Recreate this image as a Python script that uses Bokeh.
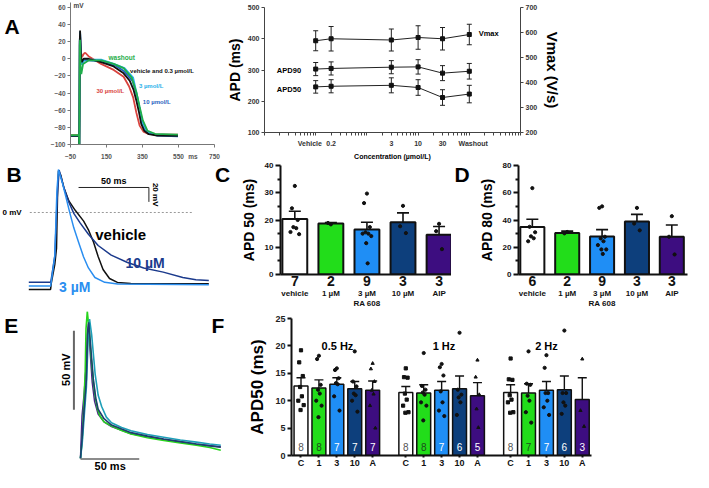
import math
from bokeh.plotting import figure
from bokeh.layouts import row, column
from bokeh.models import (Range1d, LinearAxis, FixedTicker, Whisker, TeeHead,
                          ColumnDataSource, Label, LabelSet)
from bokeh.core.properties import value, field
from bokeh.embed import file_html
from bokeh.resources import INLINE

FONT = "Liberation Sans"

# ============================ DATA ============================
# ---- A (left): action potentials, time (ms) / potential (mV)
ap_vehicle_t = [-50, -3, -1, 0, 1.5, 3.3, 8, 12, 23, 50, 120, 190, 245, 280, 300, 315, 330, 343, 360, 385, 430, 547]
ap_vehicle_v = [-90, -90, -100, -60, 20, 33, 5, -4, 0, 0, -4, -9, -17, -26, -36, -48, -62, -76, -84, -88, -89.5, -90]
ap_30_t = [-50, -3, -1, 0, 1.5, 3, 8, 14, 25, 32, 50, 120, 190, 245, 275, 298, 316, 334, 355, 380, 430, 547]
ap_30_v = [-89, -89, -100, -60, 18, 28, 8, 2, 6, 7, 3, -6, -13, -21, -32, -45, -63, -78, -85, -87.5, -88.5, -88.5]
ap_wash_t = [-50, -3, -1, 0, 1.5, 3, 6, 10, 20, 50, 120, 190, 245, 290, 316, 334, 352, 378, 420, 547]
ap_wash_v = [-89, -89, -100, -60, 15, 22, -10, -18, -6, -2, -2, -6, -11, -22, -39, -56, -72, -84, -87.5, -88.5]
ap_3_t = [-50, -3, -1, 0, 1.5, 3.3, 8, 12, 25, 50, 120, 190, 250, 298, 318, 336, 348, 370, 420, 547]
ap_3_v = [-90, -90, -100, -60, 20, 32, 0, -7, -1, -1, -1, -6, -11, -22, -41, -59, -75, -85, -88.5, -89.5]
ap_10_t = [-50, -3, -1, 0, 1.5, 3.3, 8, 12, 25, 50, 120, 200, 250, 295, 320, 338, 355, 380, 430, 547]
ap_10_v = [-90, -90, -100, -60, 20, 31, 0, -6, -2, -2, -3, -8, -15, -26, -44, -63, -78, -86, -89.5, -90.5]
a1_xticks = [-50, 150, 350, 550, 750]
a1_yticks = [-100, -80, -60, -40, -20, 0, 20, 40, 60]

# ---- A (right): APD / Vmax vs concentration
conc = [0.1, 0.2, 3, 10, 30, 100]
conc_labels = ["Vehicle", "0.2", "3", "10", "30", "Washout"]
apd90 = [303, 305, 309, 310, 290, 296]
apd90_sem = [21, 21, 21, 23, 24, 25]
apd50 = [246, 248, 251, 244, 212, 223]
apd50_sem = [20, 21, 24, 25, 25, 28]
vmax = [567, 575, 570, 580, 575, 592]
vmax_sem = [40, 49, 44, 47, 45, 41]

# ---- B: action potentials (ms / mV)
b_vehicle_t = [-16, -0.5, 0, 2.5, 3.7, 4.6, 5.1, 6.7, 9, 12.5, 17, 23, 26.4, 30, 33.3, 36.8, 41.4, 47, 56.5, 80, 112]
b_vehicle_v = [-106.7, -106.7, -98, -72, -50, 40, 58, 52, 34, 16, 3, -12, -24, -41, -61, -79, -91.6, -97, -98.5, -98.7, -98.7]
b_3_t = [-16, -0.5, 0, 2.5, 4, 5.1, 7.9, 10.2, 13, 16, 19.4, 22.9, 26.4, 31, 38, 47.2, 112]
b_3_v = [-102, -102, -96, -60, 30, 59.6, 40.9, 23.1, 0.9, -21.3, -41.3, -61.3, -76.9, -90.2, -96.9, -99.1, -100.4]
b_10_t = [-16, -0.5, 0, 2.5, 4.2, 5.6, 9, 12.5, 16, 20.6, 26.4, 33.3, 42.6, 54.2, 65.7, 79.6, 93.5, 102.8, 112]
b_10_v = [-96.9, -96.9, -92, -60, 20, 58.7, 34.2, 14.2, -1.3, -14.7, -30.2, -45.8, -59.1, -69.3, -76.9, -82.7, -90.2, -93.3, -94.2]

# ---- C / D: bar charts
cd_groups = ["vehicle", "1 \u00b5M", "3 \u00b5M\nRA 608", "10 \u00b5M", "AIP"]
cd_colors = ["white", "#22dd1a", "#1f8ef5", "#0d3f7c", "#3d0d80"]
c_n = [7, 2, 9, 3, 3]
c_mean = [20.4, 18.7, 16.5, 19.2, 14.6]
c_sem = [2.8, 0.4, 2.7, 3.4, 3.0]
c_dots = [[32.5, 24.3, 20.0, 17.4, 17.0, 15.6, 14.8],
          [18.4, 18.9],
          [29.7, 26.2, 17.4, 15.5, 15.0, 15.0, 14.1, 11.5, 4.1],
          [25.2, 17.7, 15.2],
          [18.6, 15.9, 9.3]]
d_n = [6, 2, 9, 3, 3]
d_mean = [34.8, 30.5, 27.9, 38.9, 27.7]
d_sem = [5.8, 1.3, 5.0, 5.2, 8.6]
d_dots = [[63.4, 35.0, 31.0, 28.0, 26.6, 24.4],
          [31.2, 30.2],
          [50.0, 48.9, 27.7, 26.5, 24.4, 21.6, 18.4, 18.4, 15.1],
          [48.9, 37.4, 32.4],
          [42.8, 27.7, 14.7]]

# ---- E: action potentials (ms / mV above baseline)
e_green_t = [0, 1.5, 2.8, 4.0, 4.7, 5.8, 7.5, 9.2, 11, 12.5, 14.5, 16.7, 20, 26.4, 35, 43, 57, 70.8, 85, 98.6, 110, 119.4]
e_green_v = [0, 12, 33, 55, 82, 93, 80, 63, 48, 39, 31, 26.6, 23, 20.4, 17.5, 15.3, 13, 11.2, 9.6, 8.2, 6.8, 5.1]
e_teal_t = [0, 1.5, 3, 5, 6.5, 7.7, 9.5, 12.5, 15, 18, 22, 26.4, 35, 43, 57, 70.8, 85, 98.6, 110, 119.4]
e_teal_v = [0, 10, 25, 45, 75, 88, 78, 53, 40, 32.7, 26, 22.5, 19.5, 17.4, 15, 13.3, 11.5, 10.2, 9, 8.2]
e_navy_t = [0, 1.5, 3, 5, 6, 7, 8.5, 10.9, 13, 15, 20, 26.4, 35, 43, 57, 70.8, 85, 98.6, 110, 119.4]
e_navy_v = [0, 14, 30, 50, 78, 86, 72, 50, 38, 31, 25, 21, 18.5, 16.2, 14, 12.2, 10.5, 9, 7.8, 7]
e_purple_t = [0, 1.3, 3, 5, 6, 6.8, 8, 10, 12, 15, 20, 26.4, 43, 70.8, 98.6, 119.4]
e_purple_v = [0, 26.6, 40, 60, 80, 85, 70, 48, 36, 28, 23, 20, 15.5, 11.8, 8.8, 7.2]

# ---- F: APD50 at three pacing frequencies
f_freqs = ["0.5 Hz", "1 Hz", "2 Hz"]
f_groups = ["C", "1", "3", "10", "A"]
f_mean_05 = [12.7, 12.3, 13.0, 12.2, 11.9]
f_sem_05 = [1.5, 1.5, 1.2, 1.3, 1.7]
f_n_05 = [8, 8, 7, 7, 7]
f_dots_05 = [[19.2, 17.0, 14.5, 12.5, 10.8, 10.0, 9.2, 8.3],
             [18.2, 17.6, 12.9, 12.0, 11.3, 10.0, 9.1, 7.0],
             [15.9, 15.6, 14.1, 13.2, 13.0, 10.8, 8.2],
             [19.0, 13.5, 12.6, 11.3, 11.0, 10.0, 8.0],
             [16.8, 15.8, 13.5, 11.9, 11.2, 9.1, 5.0]]
f_mean_1 = [11.5, 11.4, 11.9, 12.2, 10.9]
f_sem_1 = [1.1, 1.5, 1.6, 2.3, 2.4]
f_n_1 = [8, 8, 7, 6, 5]
f_dots_1 = [[15.9, 14.3, 14.2, 11.3, 10.2, 9.1, 7.9, 7.8],
            [18.7, 12.7, 12.0, 11.5, 11.1, 9.7, 9.1, 6.4],
            [16.7, 16.1, 14.6, 11.7, 9.7, 8.2, 7.2],
            [22.4, 12.0, 11.1, 10.6, 9.7, 7.4],
            [17.4, 14.3, 11.1, 8.5, 5.1]]
f_mean_2 = [11.5, 11.4, 11.9, 12.0, 10.2]
f_sem_2 = [1.4, 1.7, 1.6, 2.5, 4.0]
f_n_2 = [8, 7, 7, 6, 3]
f_dots_2 = [[17.7, 13.9, 13.8, 11.0, 10.2, 9.7, 7.9, 7.8],
            [19.0, 13.1, 12.9, 10.9, 10.0, 7.9, 6.0],
            [18.3, 16.0, 11.4, 11.4, 10.0, 8.8, 7.4],
            [22.8, 11.4, 11.4, 9.7, 9.1, 7.6],
            [17.6, 8.2, 5.3]]

# ============================ HELPERS ============================
SX = 693 / 709
SY = 472 / 488
NB = "\u00a0"


def X(v):
    return int(round(v * SX))


def Y(v):
    return int(round(v * SY))


def panel(box, frame, x_range, y_range, **kw):
    l, t, r, b = box
    fl, ft, fr, fb = frame
    p = figure(width=X(r) - X(l), height=Y(b) - Y(t), x_range=x_range, y_range=y_range,
               output_backend="svg", toolbar_location=None,
               min_border_left=X(fl) - X(l), min_border_right=X(r) - X(fr),
               min_border_top=Y(ft) - Y(t), min_border_bottom=Y(b) - Y(fb), **kw)
    try:
        p.frame_align = False
    except Exception:
        pass
    p.outline_line_color = None
    p.grid.visible = False
    p.background_fill_color = "white"
    p.border_fill_color = "white"
    return p


def to_data(frame, xr, yr, px, py, xlog=False):
    fl, ft, fr, fb = frame
    if xlog:
        l0, l1 = math.log10(xr[0]), math.log10(xr[1])
        x = 10 ** (l0 + (px - fl) / (fr - fl) * (l1 - l0))
    else:
        x = xr[0] + (px - fl) / (fr - fl) * (xr[1] - xr[0])
    y = yr[0] + (fb - py) / (fb - ft) * (yr[1] - yr[0])
    return x, y


def txt(p, frame, xr, yr, px, py, text, size=8, color="black", align="left",
        angle=0.0, bold=True, xlog=False):
    x, y = to_data(frame, xr, yr, px, py, xlog)
    p.add_layout(Label(x=x, y=y, text=text, text_font=FONT, text_font_size=f"{size}px",
                       text_font_style="bold" if bold else "normal", text_color=color,
                       text_align=align, text_baseline="middle", angle=angle))


def dtxt(p, x, y, text, size=8, color="black", align="left", angle=0.0):
    p.add_layout(Label(x=x, y=y, text=text, text_font=FONT, text_font_size=f"{size}px",
                       text_font_style="bold", text_color=color,
                       text_align=align, text_baseline="middle", angle=angle))


def style_axis(ax, size=8, color="black", lw=1, label_color=None, tick_out=3, minor_out=2):
    ax.axis_line_color = color
    ax.axis_line_width = lw
    ax.major_tick_line_color = color
    ax.major_tick_line_width = lw
    ax.minor_tick_line_color = color
    ax.minor_tick_line_width = lw
    ax.major_tick_in = 0
    ax.minor_tick_in = 0
    ax.major_tick_out = tick_out
    ax.minor_tick_out = minor_out
    ax.major_label_text_font = FONT
    ax.major_label_text_font_size = f"{size}px"
    ax.major_label_text_font_style = "bold"
    ax.major_label_text_color = label_color or color
    ax.major_label_standoff = 2
    ax.axis_label_text_font = FONT
    ax.axis_label_text_font_style = "bold"
    ax.axis_label_text_color = "black"


def letter_fig(box, letter, px, py):
    p = panel(box, box, Range1d(0, 1), Range1d(0, 1), x_axis_location=None, y_axis_location=None)
    txt(p, box, (0, 1), (0, 1), px, py, letter, 21, align="center")
    return p


JIT = [0.0, -0.08, 0.08, -0.04, 0.04, -0.12, 0.12, -0.02, 0.02]

# ============================ A (left) ============================
AL_BOX = (0, 0, 26, 167)
al = letter_fig(AL_BOX, "A", 12, 27)

A1_BOX = (26, 0, 228, 167)
A1_FR = (72, 2, 219, 150)
a1_xr = (-50, 750)
a1_yr = (-100, 60 + 5 * 160 / 143)
a1 = panel(A1_BOX, A1_FR, Range1d(*a1_xr), Range1d(*a1_yr))
MS_TICK = 630
a1.xaxis.ticker = FixedTicker(ticks=a1_xticks + [MS_TICK], minor_ticks=a1_xticks)
a1.xaxis.major_label_overrides = {MS_TICK: "ms"}
a1.yaxis.ticker = FixedTicker(ticks=a1_yticks)
for ax in a1.axis:
    style_axis(ax, size=6.5, color="#777777", label_color="#555555", tick_out=3)
a1.xaxis.major_tick_out = 0
a1.xaxis.minor_tick_out = 3
a1.xaxis.major_label_standoff = 5
for t, v, c in [(ap_30_t, ap_30_v, "#d9443f"), (ap_10_t, ap_10_v, "#1f63c0"),
                (ap_3_t, ap_3_v, "#29b0ea"), (ap_vehicle_t, ap_vehicle_v, "#111111"),
                (ap_wash_t, ap_wash_v, "#1fae4a")]:
    a1.line(t, v, line_color=c, line_width=1.8)
dtxt(a1, 161, 2, "washout", 6.5, "#1fae4a")
dtxt(a1, 281, -14.4, "vehicle and 0.3 \u00b5mol/L", 6, "#111111")
dtxt(a1, 330, -32, "3 \u00b5mol/L", 6, "#29b0ea")
dtxt(a1, 94, -38, "30 \u00b5mol/L", 6, "#d9443f")
dtxt(a1, 352, -51, "10 \u00b5mol/L", 6, "#1f63c0")
txt(a1, A1_FR, a1_xr, a1_yr, 75, 5, "mV", 6.5, "#444444")

# ============================ A (right) ============================
A2_BOX = (228, 0, 709, 167)
A2_FR = (263, 7, 532, 140)
a2_xr = (0.01, 1000)
a2_yr = (100, 500)
a2 = panel(A2_BOX, A2_FR, Range1d(*a2_xr), Range1d(*a2_yr), x_axis_type="log")
a2.extra_y_ranges = {"vmax": Range1d(200, 700)}
a2.add_layout(LinearAxis(y_range_name="vmax"), "right")
xa = a2.below[0]
xa.ticker = FixedTicker(ticks=conc,
                        minor_ticks=[k * 10.0 ** e for e in range(-2, 3) for k in range(1, 10)] + [1000])
shown = [lab + NB * 6 if i == 0 else (NB * 4 + lab if i == len(conc_labels) - 1 else lab)
         for i, lab in enumerate(conc_labels)]
xa.major_label_overrides = {c: l for c, l in zip(conc, shown)}
la = a2.left[0]
la.ticker = FixedTicker(ticks=[100, 200, 300, 400, 500])
ra = a2.right[0]
ra.ticker = FixedTicker(ticks=[200, 300, 400, 500, 600, 700])
for ax in (xa, la, ra):
    style_axis(ax, size=7, color="#444444", label_color="#333333", tick_out=3)
xa.major_tick_out = 0
xa.minor_tick_out = 3
xa.major_label_standoff = 4
xa.axis_label = "Concentration (\u00b5mol/L)"
xa.axis_label_text_font_size = "7px"
xa.axis_label_standoff = 3
la.axis_label = "APD (ms)"
la.axis_label_text_font_size = "14px"
la.axis_label_standoff = 2
ra.axis_label = "Vmax (V/s)"
ra.axis_label_text_font_size = "15px"
ra.axis_label_standoff = 4

for vals, sems, rng in [(apd90, apd90_sem, "default"), (apd50, apd50_sem, "default"),
                        (vmax, vmax_sem, "vmax")]:
    src = ColumnDataSource(dict(x=conc, y=vals,
                                lo=[v - s for v, s in zip(vals, sems)],
                                hi=[v + s for v, s in zip(vals, sems)]))
    a2.line("x", "y", source=src, line_color="#222222", line_width=1, y_range_name=rng)
    a2.scatter("x", "y", source=src, marker="square", size=4, color="#111111", y_range_name=rng)
    a2.add_layout(Whisker(base="x", lower="lo", upper="hi", source=src, y_range_name=rng,
                          line_color="#222222", line_width=1,
                          upper_head=TeeHead(size=5, line_width=1, line_color="#222222"),
                          lower_head=TeeHead(size=5, line_width=1, line_color="#222222")))
txt(a2, A2_FR, a2_xr, a2_yr, 488, 35, "Vmax", 7.5, xlog=True)
txt(a2, A2_FR, a2_xr, a2_yr, 276, 74, "APD90", 7.5, xlog=True)
txt(a2, A2_FR, a2_xr, a2_yr, 276, 94, "APD50", 7.5, xlog=True)

# ============================ B ============================
B_BOX = (0, 167, 215, 322)
b_xr = ((0 - 52) / 1.44, (215 - 52) / 1.44)
b_yr = ((219 - 322) / 0.75, (219 - 167) / 0.75)
bp = panel(B_BOX, B_BOX, Range1d(*b_xr), Range1d(*b_yr), x_axis_location=None, y_axis_location=None)
bp.segment(x0=[(30 - 52) / 1.44], y0=[0], x1=[(197 - 52) / 1.44], y1=[0],
           line_color="#999999", line_width=1, line_dash="2 2")
bp.line(b_vehicle_t, b_vehicle_v, line_color="#111111", line_width=1.5)
bp.line(b_10_t, b_10_v, line_color="#1b3a8c", line_width=1.5)
bp.line(b_3_t, b_3_v, line_color="#2a8ef0", line_width=1.5)
SB_T0, SB_V0, SB_MS, SB_MV = 19.4, 34.7, 50, 20
bp.segment(x0=[SB_T0, SB_T0 + SB_MS], y0=[SB_V0, SB_V0], x1=[SB_T0 + SB_MS, SB_T0 + SB_MS],
           y1=[SB_V0, SB_V0 - SB_MV], line_color="#222222", line_width=1)
dtxt(bp, SB_T0 + SB_MS / 2, SB_V0 + 9, "50 ms", 9, align="center")
dtxt(bp, SB_T0 + SB_MS + 4.5, SB_V0 - SB_MV / 2, "20 mV", 8, align="center", angle=-math.pi / 2)
txt(bp, B_BOX, b_xr, b_yr, 2, 219, "0 mV", 8)
txt(bp, B_BOX, b_xr, b_yr, 97, 242, "vehicle", 15)
txt(bp, B_BOX, b_xr, b_yr, 128, 272, "10 \u00b5M", 14, "#1b3a8c")
txt(bp, B_BOX, b_xr, b_yr, 60, 296, "3 \u00b5M", 14, "#2a8ef0")
txt(bp, B_BOX, b_xr, b_yr, 14, 179, "B", 21, align="center")


# ============================ C / D ============================
def bar_panel(box, fr, xr, ymax, yticks, yminor, ylabel, means, sems, dots, ns):
    pp = panel(box, fr, Range1d(*xr), Range1d(0, ymax))
    xs = list(range(len(means)))
    ya = pp.left[0]
    ya.ticker = FixedTicker(ticks=yticks, minor_ticks=yminor)
    style_axis(ya, size=8, color="#111111", lw=2, tick_out=5, minor_out=3)
    ya.axis_label = ylabel
    ya.axis_label_text_font_size = "14px"
    ya.axis_label_standoff = 5
    xb = pp.below[0]
    xb.ticker = FixedTicker(ticks=xs)
    xb.major_label_overrides = {i: str(n) for i, n in zip(xs, ns)}
    style_axis(xb, size=14, color="#111111", lw=2, tick_out=0)
    xb.major_label_standoff = 1
    xn = LinearAxis(ticker=FixedTicker(ticks=xs),
                    major_label_overrides={i: g for i, g in zip(xs, cd_groups)})
    style_axis(xn, size=8, color="#111111", tick_out=0)
    xn.axis_line_color = None
    xn.major_tick_line_color = None
    xn.major_label_standoff = 0
    pp.add_layout(xn, "below")
    src = ColumnDataSource(dict(x=xs, top=means, hi=[m + s for m, s in zip(means, sems)], color=cd_colors))
    pp.vbar(x="x", top="top", width=0.69, fill_color="color", line_color="#111111", line_width=2, source=src)
    pp.add_layout(Whisker(base="x", lower="top", upper="hi", source=src, level="annotation",
                          line_color="#111111", line_width=1.6,
                          upper_head=TeeHead(size=12, line_width=1.6, line_color="#111111"),
                          lower_head=None))
    dx, dy = [], []
    for i, ds in enumerate(dots):
        for k, d in enumerate(ds):
            dx.append(i + JIT[k % len(JIT)])
            dy.append(d)
    pp.scatter(dx, dy, size=3.2, color="#111111")
    return pp


CL_BOX = (215, 167, 242, 322)
cl = letter_fig(CL_BOX, "C", 227, 180)
C_BOX = (242, 167, 461, 322)
C_FR = (282, 171, 461, 288)
c_xr = (-0.397, 4.345)
cp = bar_panel(C_BOX, C_FR, c_xr, 40, [0, 10, 20, 30, 40], [5, 15, 25, 35], "APD 50 (ms)",
               c_mean, c_sem, c_dots, c_n)
DL_BOX = (461, 167, 486, 322)
dl = letter_fig(DL_BOX, "D", 472, 180)
D_BOX = (486, 167, 709, 322)
D_FR = (520, 171, 703, 288)
d_xr = (-0.397, 4.45)
dp = bar_panel(D_BOX, D_FR, d_xr, 80, [0, 20, 40, 60, 80], [10, 30, 50, 70], "APD 80 (ms)",
               d_mean, d_sem, d_dots, d_n)

# ============================ E ============================
E_BOX = (0, 322, 240, 488)
e_xr = ((0 - 81.7) / 1.2, (240 - 81.7) / 1.2)
e_yr = ((473.3 - 488) / 1.63, (473.3 - 322) / 1.63)
ep = panel(E_BOX, E_BOX, Range1d(*e_xr), Range1d(*e_yr), x_axis_location=None, y_axis_location=None)
ep.line(e_purple_t, e_purple_v, line_color="#4a1f8a", line_width=1.5)
ep.line(e_green_t, e_green_v, line_color="#27d41c", line_width=1.6)
ep.line(e_teal_t, e_teal_v, line_color="#1e9fb8", line_width=1.6)
ep.line(e_navy_t, e_navy_v, line_color="#1c3f6e", line_width=1.6)
SE_T, SE_V0, SE_MV, SE_MS = -5.6, 30.7, 50, 50
ep.segment(x0=[SE_T], y0=[SE_V0], x1=[SE_T], y1=[SE_V0 + SE_MV], line_color="#666666", line_width=2)
ep.segment(x0=[0], y0=[-0.5], x1=[SE_MS], y1=[-0.5], line_color="#666666", line_width=1.5)
txt(ep, E_BOX, e_xr, e_yr, 67, 382, "50 mV", 11, align="center", angle=math.pi / 2)
txt(ep, E_BOX, e_xr, e_yr, 112, 481, "50 ms", 11, align="center")
txt(ep, E_BOX, e_xr, e_yr, 11, 336, "E", 21, align="center")
txt(ep, E_BOX, e_xr, e_yr, 222, 336, "F", 21, align="center")

# ============================ F ============================
F_BOX = (240, 322, 709, 488)
F_FR = (298, 329, 605, 470)
f_xr = (-10.6, 324.3)
fp = panel(F_BOX, F_FR, Range1d(*f_xr), Range1d(0, 25))
GSTEP, BSTEP = 117, 20
f_pos = [g * GSTEP + j * BSTEP for g in range(3) for j in range(5)]
fya = fp.left[0]
fya.ticker = FixedTicker(ticks=[0, 5, 10, 15, 20, 25])
style_axis(fya, size=9, color="#111111", lw=2, label_color="#222222", tick_out=4)
fya.axis_label = "APD50 (ms)"
fya.axis_label_text_font_size = "17px"
fya.axis_label_standoff = 5
fxa = fp.below[0]
fxa.ticker = FixedTicker(ticks=f_pos)
fxa.major_label_overrides = {x: f_groups[i % 5] for i, x in enumerate(f_pos)}
style_axis(fxa, size=9, color="#111111", lw=2, tick_out=2)
fxa.major_label_standoff = 0

f_means = f_mean_05 + f_mean_1 + f_mean_2
f_sems = f_sem_05 + f_sem_1 + f_sem_2
f_ns = f_n_05 + f_n_1 + f_n_2
f_dots = f_dots_05 + f_dots_1 + f_dots_2
f_cols = cd_colors * 3
f_tcols = ["#555555", "#1d4d1d", "white", "white", "white"] * 3
fsrc = ColumnDataSource(dict(x=f_pos, top=f_means, hi=[m + s for m, s in zip(f_means, f_sems)],
                             color=f_cols, n=[str(n) for n in f_ns], tc=f_tcols,
                             ny=[1.6] * len(f_pos)))
fp.vbar(x="x", top="top", width=15.5, fill_color="color", line_color="#111111", line_width=1.5, source=fsrc)
fp.add_layout(Whisker(base="x", lower="top", upper="hi", source=fsrc, level="annotation",
                      line_color="#111111", line_width=1.4,
                      upper_head=TeeHead(size=9, line_width=1.4, line_color="#111111"),
                      lower_head=None))
markers = ["square", "circle", "circle", "circle", "triangle"]
for mk in ["square", "circle", "triangle"]:
    mx, my = [], []
    for i, ds in enumerate(f_dots):
        if markers[i % 5] != mk:
            continue
        for k, d in enumerate(ds):
            mx.append(f_pos[i] + JIT[k % len(JIT)] * 25)
            my.append(d)
    fp.scatter(mx, my, marker=mk, size=3.2, color="#111111")
fp.add_layout(LabelSet(x="x", y="ny", text="n", source=fsrc, text_align="center", text_baseline="middle",
                       text_color=field("tc"), text_font=value(FONT), text_font_size="10px"))
for lab_x, lab in zip([40.7, 159.6, 274], f_freqs):
    dtxt(fp, lab_x, 19.9, lab, 11, align="center")

layout = column(row(al, a1, a2), row(bp, cl, cp, dl, dp), row(ep, fp))
open("out.html", "w").write(file_html(layout, INLINE))
